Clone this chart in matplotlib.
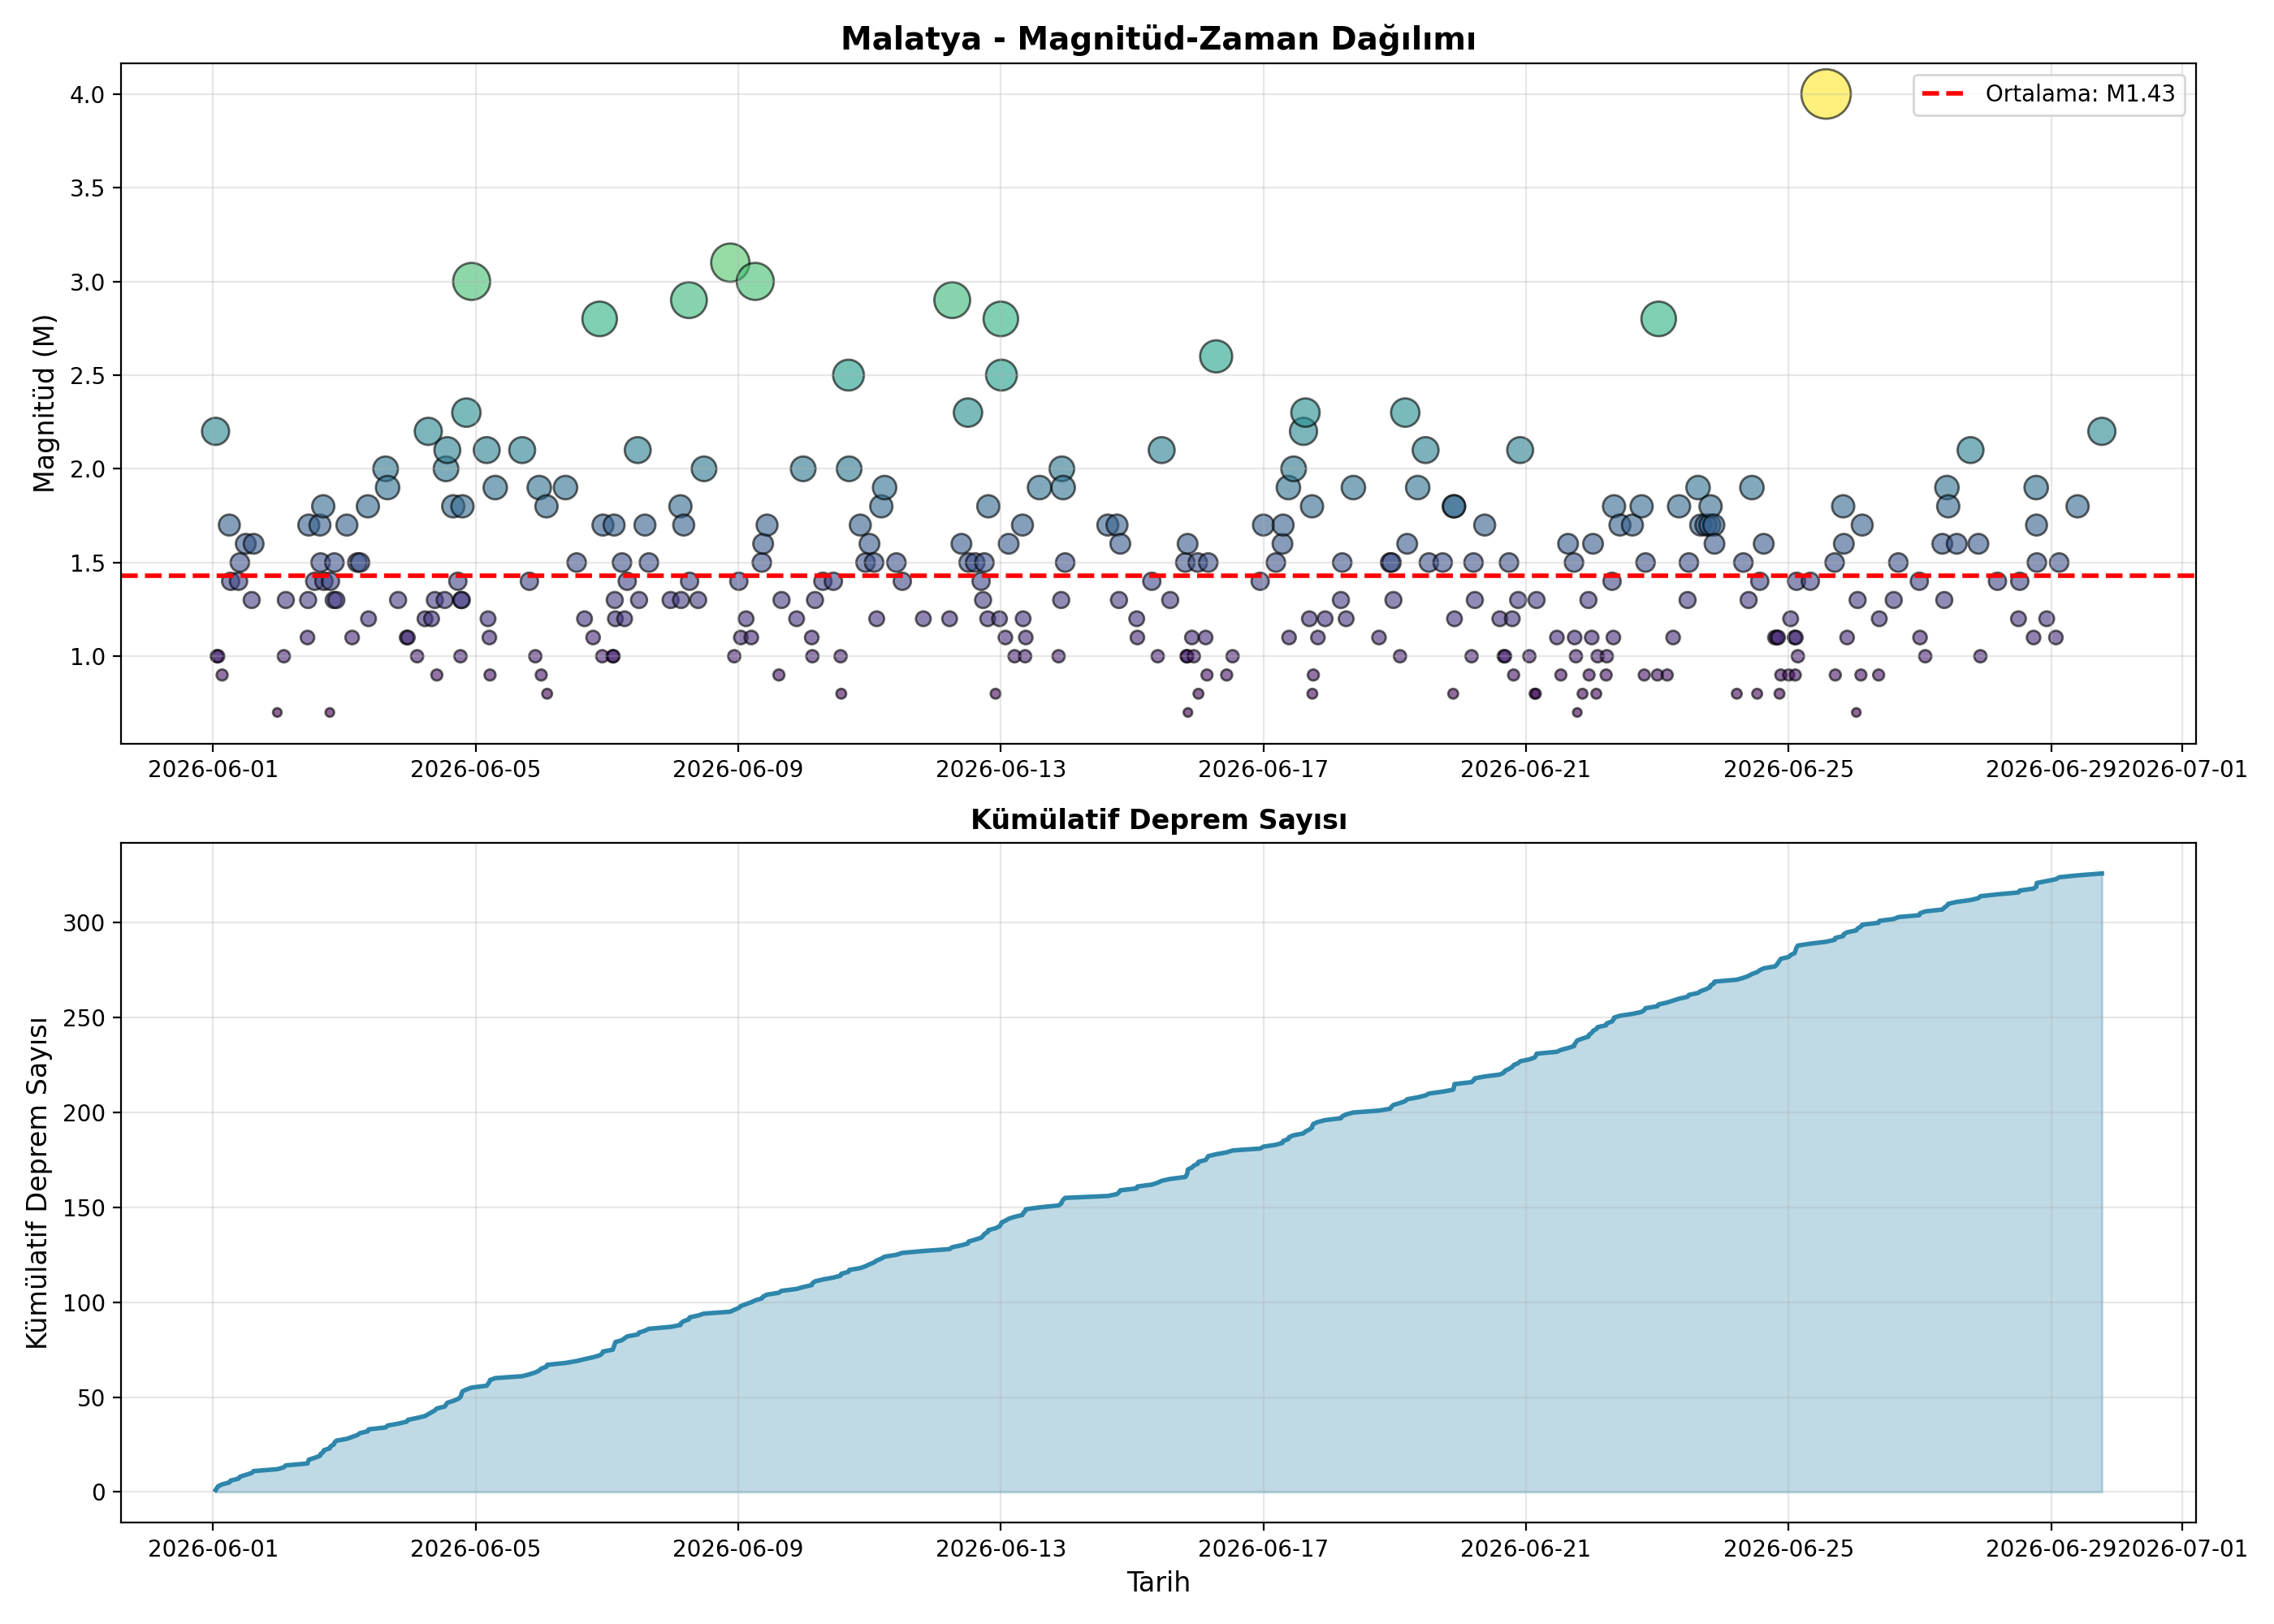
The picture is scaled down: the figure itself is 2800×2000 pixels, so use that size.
import matplotlib
matplotlib.use("Agg")
import matplotlib.pyplot as plt
import numpy as np
import pandas as pd

plt.rcParams['font.family'] = ['DejaVu Sans']

START = "2026-06-01"
MEAN_MAG = 1.43

# Event times (days after 2026-06-01 00:00) and magnitudes, grouped in segments
days_a = [0.04,0.06,0.08,0.14,0.25,0.27,0.39,0.41,0.50,0.59,0.62,0.98,1.08,1.11,1.44,1.45,1.46,1.55,1.63,1.64,
          1.68,1.69,1.78,1.79,1.84,1.85,1.88,2.04,2.12,2.20,2.24,2.36,2.37,2.63,2.66,2.82,2.95,2.97,3.11,3.23,
          3.28,3.33,3.38,3.41,3.53,3.55,3.57,3.66,3.73,3.77,3.78,3.79,3.80,3.86,3.94]
mags_a = [2.2,1.0,1.0,0.9,1.7,1.4,1.4,1.5,1.6,1.3,1.6,0.7,1.0,1.3,1.1,1.3,1.7,1.4,1.7,1.5,
          1.8,1.4,0.7,1.4,1.3,1.5,1.3,1.7,1.1,1.5,1.5,1.8,1.2,2.0,1.9,1.3,1.1,1.1,1.0,1.2,
          2.2,1.2,1.3,0.9,1.3,2.0,2.1,1.8,1.4,1.0,1.3,1.3,1.8,2.3,3.0]

days_b = [4.17,4.19,4.21,4.22,4.30,4.71,4.82,4.91,4.97,5.00,5.08,5.09,5.37,5.54,5.66,5.79,5.89,5.93,5.94,6.09,
          6.10,6.11,6.12,6.13,6.23,6.27,6.31,6.47,6.49,6.58,6.64,6.97,7.12,7.13,7.17,7.25,7.26,7.39,7.48,7.88,
          7.94,8.01,8.04,8.12,8.20,8.26,8.36,8.38,8.44,8.62,8.66,8.89,8.99,9.12,9.13,9.17,9.29,9.45]
mags_b = [2.1,1.2,1.1,0.9,1.9,2.1,1.4,1.0,1.9,0.9,1.8,0.8,1.9,1.5,1.2,1.1,2.8,1.0,1.7,1.0,
          1.0,1.7,1.3,1.2,1.5,1.2,1.4,2.1,1.3,1.7,1.5,1.3,1.8,1.3,1.7,2.9,1.4,1.3,2.0,3.1,
          1.0,1.4,1.1,1.2,1.1,3.0,1.5,1.6,1.7,0.9,1.3,1.2,2.0,1.1,1.0,1.3,1.4,1.4]

days_c = [9.56,9.57,9.68,9.69,9.86,9.94,10.00,10.07,10.11,10.18,10.23,10.41,10.50,10.82,11.22,11.26,11.40,11.50,11.51,11.61,
          11.70,11.73,11.75,11.80,11.81,11.92,11.98,12.00,12.01,12.07,12.12,12.21,12.33,12.34,12.37,12.38,12.59,12.88,12.92,12.93,
          12.95,12.98,13.63,13.77,13.80,13.82,14.07,14.08,14.30,14.39,14.45,14.58]
mags_c = [1.0,0.8,2.5,2.0,1.7,1.5,1.6,1.5,1.2,1.8,1.9,1.5,1.4,1.2,1.2,2.9,1.6,2.3,1.5,1.5,
          1.4,1.3,1.5,1.2,1.8,0.8,1.2,2.8,2.5,1.1,1.6,1.0,1.7,1.2,1.0,1.1,1.9,1.0,1.3,2.0,
          1.9,1.5,1.7,1.7,1.3,1.6,1.2,1.1,1.4,1.0,2.1,1.3]

days_d = [14.81,14.83,14.84,14.845,14.85,14.91,14.94,15.00,15.01,15.12,15.14,15.16,15.28,15.44,15.53,15.95,16.00,16.19,16.29,16.30,
          16.38,16.39,16.46,16.61,16.64,16.70,16.74,16.745,16.76,16.83,16.94,17.18,17.20,17.26,17.37,17.76,17.93,17.95,17.98,18.08,
          18.16,18.19,18.35,18.47,18.52,18.73,18.89,18.90,18.905,18.91,19.17,19.20,19.22,19.37,19.60,19.66,19.68,19.74,19.79,19.81,
          19.88,19.91]
mags_d = [1.5,1.0,1.0,1.6,0.7,1.1,1.0,1.5,0.8,1.1,0.9,1.5,2.6,0.9,1.0,1.4,1.7,1.5,1.6,1.7,
          1.9,1.1,2.0,2.2,2.3,1.2,1.8,0.8,0.9,1.1,1.2,1.3,1.5,1.2,1.9,1.1,1.5,1.5,1.3,1.0,
          2.3,1.6,1.9,2.1,1.5,1.5,0.8,1.8,1.8,1.2,1.0,1.5,1.3,1.7,1.2,1.0,1.0,1.5,1.2,0.9,
          1.3,2.1]

days_e = [20.05,20.13,20.15,20.16,20.47,20.53,20.64,20.73,20.74,20.76,20.78,20.86,20.95,20.96,21.00,21.02,21.07,21.09,21.22,21.23,
          21.31,21.33,21.34,21.43,21.62,21.76,21.80,21.82,22.00,22.02,22.15,22.24,22.33,22.46,22.48,22.62,22.66,22.74,22.80,22.81,
          22.86,22.87,23.21,23.31,23.39,23.44,23.52,23.56,23.62,23.79,23.82,23.84,23.86,23.88,24.00,24.03,24.09,24.10,24.11,24.12,
          24.14,24.33,24.57,24.70,24.71,24.83,24.84,24.89,25.03,25.05,25.10,25.12,25.37,25.38]
mags_e = [1.0,0.8,0.8,1.3,1.1,0.9,1.6,1.5,1.1,1.0,0.7,0.8,1.3,0.9,1.1,1.6,0.8,1.0,0.9,1.0,
          1.4,1.1,1.8,1.7,1.7,1.8,0.9,1.5,0.9,2.8,0.9,1.1,1.8,1.3,1.5,1.9,1.7,1.7,1.7,1.8,
          1.7,1.6,0.8,1.5,1.3,1.9,0.8,1.4,1.6,1.1,1.1,1.1,0.8,0.9,0.9,1.2,1.1,0.9,1.1,1.4,
          1.0,1.4,4.0,1.5,0.9,1.8,1.6,1.1,0.7,1.3,0.9,1.7,0.9,1.2]

days_f = [25.60,25.67,25.99,26.00,26.08,26.34,26.37,26.41,26.43,26.56,26.77,26.89,26.92,27.18,27.50,27.52,27.73,27.77,27.775,27.78,
          27.93,28.07,28.12,28.40,28.77]
mags_f = [1.3,1.5,1.4,1.1,1.0,1.6,1.3,1.9,1.8,1.6,2.1,1.6,1.0,1.4,1.2,1.4,1.1,1.9,1.7,1.5,
          1.2,1.1,1.5,1.8,2.2]

days = np.array(days_a + days_b + days_c + days_d + days_e + days_f)
mags = np.array(mags_a + mags_b + mags_c + mags_d + mags_e + mags_f)
order = np.argsort(days, kind="stable")
days = days[order]
mags = mags[order]
times = pd.Timestamp(START) + pd.to_timedelta(days, unit="D")

fig, (ax1, ax2) = plt.subplots(2, 1, figsize=(14, 10))

ax1.scatter(times, mags, c=mags, s=mags**2 * 30, cmap="viridis", alpha=0.6,
            edgecolors="black", linewidths=1)
ax1.axhline(MEAN_MAG, color="red", linestyle="--", linewidth=2,
            label=f"Ortalama: M{MEAN_MAG:.2f}")
ax1.set_title("Malatya - Magnitüd-Zaman Dağılımı", fontsize=14, fontweight="bold")
ax1.set_ylabel("Magnitüd (M)", fontsize=12)
ax1.legend(loc="upper right")
ax1.grid(True, alpha=0.3)

cum = np.arange(1, len(times) + 1)
ax2.plot(times, cum, color="#2E86AB", linewidth=2)
ax2.fill_between(times, cum, alpha=0.3, color="#2E86AB")
ax2.set_title("Kümülatif Deprem Sayısı", fontsize=12, fontweight="bold")
ax2.set_xlabel("Tarih", fontsize=12)
ax2.set_ylabel("Kümülatif Deprem Sayısı", fontsize=12)
ax2.grid(True, alpha=0.3)

plt.tight_layout()
fig.savefig("out.png", dpi=200)
